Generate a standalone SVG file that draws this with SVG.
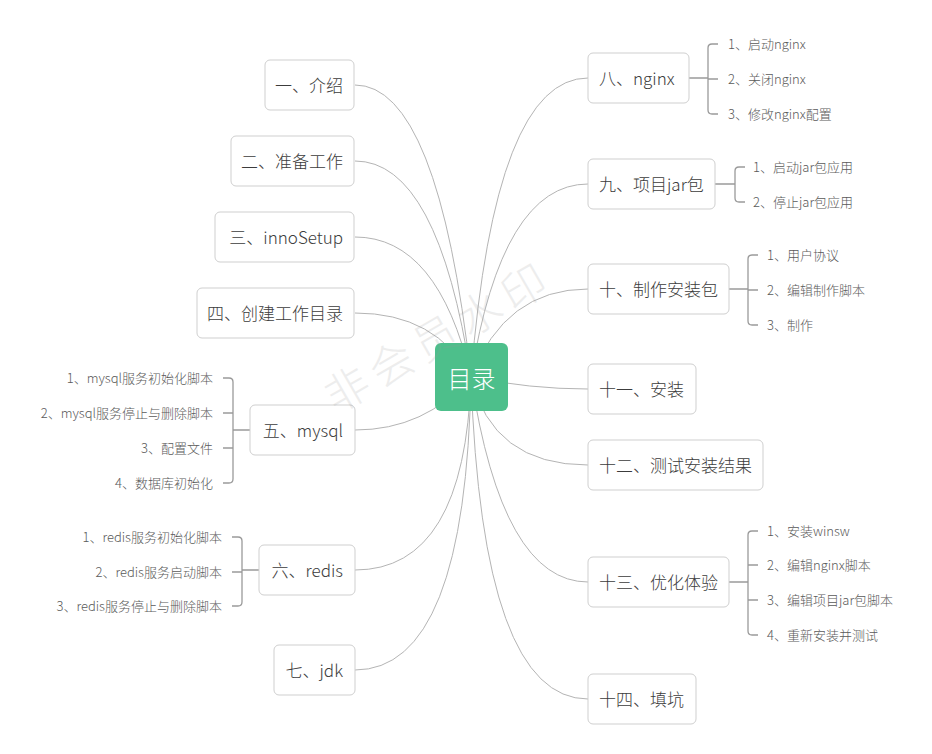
<svg xmlns="http://www.w3.org/2000/svg" width="932" height="754" viewBox="0 0 932 754">
<style>
text{font-family:"Noto Sans CJK SC","Microsoft YaHei","Noto Sans",sans-serif;dominant-baseline:central;font-weight:300}
.box{fill:#fff;stroke:#cfcfcf;stroke-width:1}
.t{font-size:17px;fill:#3c3c3c}
.l{text-anchor:end}
.c{font-size:13px;fill:#5a5a5a}
.edge{fill:none;stroke:#b4b4b4;stroke-width:1}
.br{fill:none;stroke:#9a9a9a;stroke-width:1.3}
.wm{font-size:44px;fill:#999;opacity:0.17;text-anchor:middle;letter-spacing:7px}
</style>
<rect width="932" height="754" fill="#fff"/>
<g id="connectors">
<path class="edge" d="M355 85 Q438 85 471 377"/>
<path class="edge" d="M355 161 Q438 161 471 377"/>
<path class="edge" d="M355 237 Q438 237 471 377"/>
<path class="edge" d="M355 313 Q436 313 471 377"/>
<path class="edge" d="M355 430 Q425 430 471 377"/>
<path class="edge" d="M355 570 Q465 570 471 377"/>
<path class="edge" d="M355 670 Q466 670 471 377"/>
<path class="edge" d="M588 78 Q495 78 471 377"/>
<path class="edge" d="M588 184 Q502 184 471 377"/>
<path class="edge" d="M588 289 Q505 289 471 377"/>
<path class="edge" d="M588 389 Q530 389 471 377"/>
<path class="edge" d="M588 465 Q492 465 471 377"/>
<path class="edge" d="M588 582 Q502 582 471 377"/>
<path class="edge" d="M588 699 Q482 699 471 377"/>
<path class="br" d="M689 78H708 M718 44H712Q708 44 708 48V110Q708 114 712 114H718 M708 79H718"/>
<path class="br" d="M715 184H735 M745 167H739Q735 167 735 171V198Q735 202 739 202H745"/>
<path class="br" d="M729 289H748 M758 255H752Q748 255 748 259V321Q748 325 752 325H758 M748 290H758"/>
<path class="br" d="M729 582H748 M758 531H752Q748 531 748 535V631Q748 635 752 635H758 M748 565H758 M748 600H758"/>
<path class="br" d="M250 430H233 M223 378H229Q233 378 233 382V479Q233 483 229 483H223 M233 413H223 M233 448H223"/>
<path class="br" d="M259 570H242 M232 537H238Q242 537 242 541V602Q242 606 238 606H232 M242 572H232"/>
</g>
<g id="root">
<rect x="435" y="343" width="73" height="68" rx="6" fill="#4dbf8b"/>
<text x="471.5" y="377" font-size="24" fill="#fff" text-anchor="middle">目录</text>
</g>
<g id="n1"><rect class="box" x="265" y="60" width="89" height="50" rx="5"/><text class="t l" x="343" y="84">一、介绍</text></g>
<g id="n2"><rect class="box" x="231" y="136" width="123" height="50" rx="5"/><text class="t l" x="343" y="160">二、准备工作</text></g>
<g id="n3"><rect class="box" x="215" y="212" width="139" height="50" rx="5"/><text class="t l" x="343" y="236">三、innoSetup</text></g>
<g id="n4"><rect class="box" x="197" y="288" width="157" height="50" rx="5"/><text class="t l" x="343" y="312">四、创建工作目录</text></g>
<g id="n5"><rect class="box" x="250" y="405" width="105" height="50" rx="5"/><text class="t l" x="343" y="429">五、mysql</text>
<text class="c l" x="213" y="377">1、mysql服务初始化脚本</text>
<text class="c l" x="213" y="412">2、mysql服务停止与删除脚本</text>
<text class="c l" x="213" y="447">3、配置文件</text>
<text class="c l" x="213" y="482">4、数据库初始化</text></g>
<g id="n6"><rect class="box" x="259" y="545" width="96" height="50" rx="5"/><text class="t l" x="343" y="569">六、redis</text>
<text class="c l" x="222" y="536">1、redis服务初始化脚本</text>
<text class="c l" x="222" y="571">2、redis服务启动脚本</text>
<text class="c l" x="222" y="605">3、redis服务停止与删除脚本</text></g>
<g id="n7"><rect class="box" x="274" y="645" width="81" height="50" rx="5"/><text class="t l" x="343" y="669">七、jdk</text></g>
<g id="n8"><rect class="box" x="588" y="53" width="101" height="50" rx="5"/><text class="t" x="599" y="77">八、nginx</text>
<text class="c" x="728" y="43">1、启动nginx</text>
<text class="c" x="728" y="78">2、关闭nginx</text>
<text class="c" x="728" y="113">3、修改nginx配置</text></g>
<g id="n9"><rect class="box" x="588" y="159" width="127" height="50" rx="5"/><text class="t" x="599" y="183">九、项目jar包</text>
<text class="c" x="753" y="166">1、启动jar包应用</text>
<text class="c" x="753" y="201">2、停止jar包应用</text></g>
<g id="n10"><rect class="box" x="588" y="264" width="141" height="50" rx="5"/><text class="t" x="599" y="288">十、制作安装包</text>
<text class="c" x="767" y="254">1、用户协议</text>
<text class="c" x="767" y="289">2、编辑制作脚本</text>
<text class="c" x="767" y="324">3、制作</text></g>
<g id="n11"><rect class="box" x="588" y="364" width="108" height="50" rx="5"/><text class="t" x="599" y="388">十一、安装</text></g>
<g id="n12"><rect class="box" x="588" y="440" width="175" height="50" rx="5"/><text class="t" x="599" y="464">十二、测试安装结果</text></g>
<g id="n13"><rect class="box" x="588" y="557" width="141" height="50" rx="5"/><text class="t" x="599" y="581">十三、优化体验</text>
<text class="c" x="767" y="530">1、安装winsw</text>
<text class="c" x="767" y="564">2、编辑nginx脚本</text>
<text class="c" x="767" y="599">3、编辑项目jar包脚本</text>
<text class="c" x="767" y="634">4、重新安装并测试</text></g>
<g id="n14"><rect class="box" x="588" y="674" width="108" height="50" rx="5"/><text class="t" x="599" y="698">十四、填坑</text></g>
<text class="wm" x="437" y="334" transform="rotate(-30 437 334)">非会员水印</text>
</svg>
